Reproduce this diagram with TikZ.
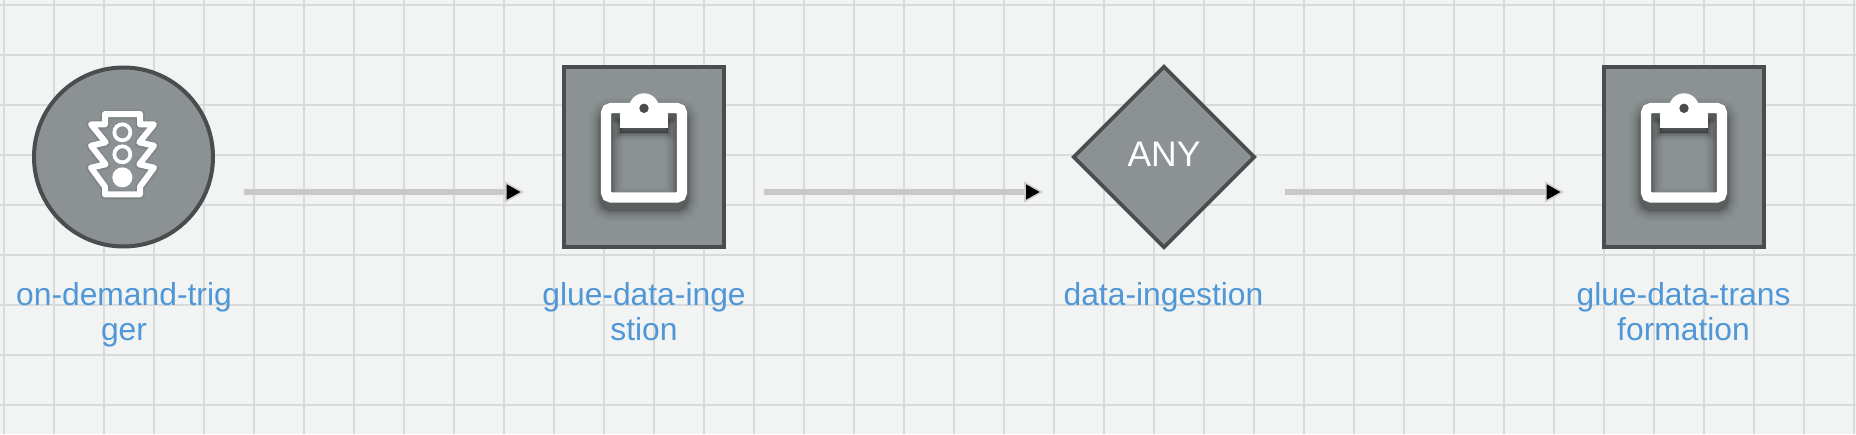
\documentclass[tikz,border=0pt]{standalone}
\usepackage{fontspec}
\setmainfont{Liberation Sans}
\usetikzlibrary{shapes.geometric,arrows.meta}
\definecolor{bgc}{HTML}{F2F4F4}
\definecolor{gridc}{HTML}{D9DBDB}
\definecolor{fillc}{HTML}{8C9193}
\definecolor{edgec}{HTML}{4A4C4D}
\definecolor{linec}{HTML}{C9C7C8}
\definecolor{labelc}{HTML}{4F97D6}
\newcommand{\clipoutline}[1]{%
  \draw[#1,rounded corners=5pt] (-38,-49) rectangle (38,40.5);}
\newcommand{\cliptab}[1]{%
  \path[#1] (-24,-54) rectangle (24,-29.3);
  \path[#1] (0,-48.7) circle (15);}
\newcommand{\tlbody}[1]{%
  \draw[#1,line join=round] (75,27) -- (180,27) -- (180,58) -- (222,58) -- (178,112) -- (222,122)
    -- (178,178) -- (222,188) -- (180,245) -- (180,268) -- (75,268) -- (75,245)
    -- (33,188) -- (77,178) -- (33,122) -- (77,112) -- (33,58) -- (75,58) -- cycle;}
\tikzset{
  x=1pt,y=-1pt,
  gridline/.style={gridc,line width=2pt},
  flow/.style={linec,line width=6pt,-{Triangle[length=19pt,width=21pt,line width=1.6pt,color=linec!85!white,fill=black]}},
  statebox/.style={rectangle,draw=edgec,fill=fillc,line width=4pt,minimum width=160pt,minimum height=180pt,inner sep=0pt},
  statecirc/.style={circle,draw=edgec,fill=fillc,line width=4pt,minimum size=179pt,inner sep=0pt},
  statediam/.style={diamond,draw=edgec,fill=fillc,line width=3.6pt,minimum size=182pt,inner sep=0pt,aspect=1,
    text=white,font=\fontsize{35.5}{40}\selectfont,text height=24.7pt,text depth=5.3pt},
  lab/.style={text=labelc,font=\fontsize{31.8}{35}\selectfont,align=center,inner sep=0pt,anchor=base},
  clipicon/.pic={
    \foreach \w/\o in {34/.03,29/.035,25/.04,21/.05,18/.06,15/.08,13/.10}{
      \begin{scope}[yshift=-7pt,opacity=\o]
        \draw[black,line width=\w pt,rounded corners=5pt] (-38,-49) rectangle (38,40.5);
      \end{scope}
    }
    \foreach \w/\o in {16/.04,11/.07,6/.10,2/.14}{
      \begin{scope}[yshift=-5pt,opacity=\o]
        \path[fill=black,draw=black,line width=\w pt] (-24,-40) rectangle (24,-29.3);
      \end{scope}
    }
    \clipoutline{white,line width=10.3pt}
    \cliptab{fill=white}
    \fill[edgec] (0,-48.7) circle (4.7);
  },
  lighticon/.pic={
    \begin{scope}[scale=.33333,shift={(-130.5,-156)}]
      \foreach \w/\o in {10/.04,8/.06}{
        \begin{scope}[yshift=-1.5pt,opacity=\o]
          \tlbody{black,line width=\w pt}
        \end{scope}
      }
      \tlbody{white,line width=6pt}
      \draw[white,line width=3.7pt] (127,82) circle (24);
      \draw[white,line width=3.7pt] (127,148) circle (24);
      \fill[white] (127,217) circle (30);
    \end{scope}
  },
}
\begin{document}
\begin{tikzpicture}
\useasboundingbox (0,0) rectangle (1856,434);
\fill[bgc] (0,0) rectangle (1856,434);
\foreach \i in {0,...,37} \draw[gridline] (4+50*\i,0) -- (4+50*\i,434);
\foreach \i in {0,...,8} \draw[gridline] (0,5+50*\i) -- (1856,5+50*\i);
\node[statecirc] (a) at (123.5,157) {};
\node[statebox] (b) at (644,157) {};
\node[statediam] (c) at (1164,157) {ANY};
\node[statebox] (d) at (1684,157) {};
\pic at (a.center) {lighticon};
\pic at (b.center) {clipicon};
\pic at (d.center) {clipicon};
\node[lab] (la) at (124,340) {on-demand-trig\\ger};
\node[lab] (lb) at (644,340) {glue-data-inge\\stion};
\node[lab] (lc) at (1163.5,305) {data-ingestion};
\node[lab] (ld) at (1683.5,340) {glue-data-trans\\formation};
\draw[flow] ([shift={(28.5,35)}]a.east) -- ([shift={(-38,35)}]b.west);
\draw[flow] ([shift={(38,35)}]b.east) -- ([shift={(-28,35)}]c.west);
\draw[flow] ([shift={(28,35)}]c.east) -- ([shift={(-38,35)}]d.west);
\end{tikzpicture}
\end{document}
